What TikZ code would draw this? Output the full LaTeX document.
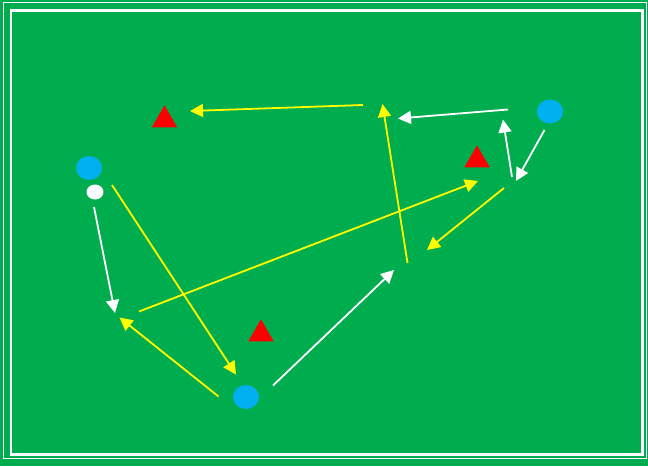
\documentclass[tikz,border=0pt]{standalone}
\usetikzlibrary{arrows.meta,shapes.geometric}
\definecolor{pitch}{RGB}{0,173,78}
\definecolor{player}{RGB}{0,176,240}
\definecolor{cone}{RGB}{255,0,0}
\definecolor{pass}{RGB}{255,255,0}
\begin{document}
\begin{tikzpicture}[x=1pt,y=-1pt,
  yarrow/.style={draw=pass,line width=1.8pt,-{Triangle[length=13pt,width=13pt]}},
  warrow/.style={draw=white,line width=1.8pt,-{Triangle[length=13pt,width=13pt]}},
  playerdot/.style={ellipse,fill=player,minimum width=26pt,minimum height=24pt,inner sep=0pt},
  balldot/.style={ellipse,fill=white,minimum width=17pt,minimum height=15pt,inner sep=0pt},
  conemark/.style={isosceles triangle,isosceles triangle apex angle=60,shape border rotate=90,fill=cone,minimum height=22pt,inner sep=0pt}]
\useasboundingbox (0,0) rectangle (648,466);
\fill[pitch] (0,0) rectangle (648,466);
\draw[white,line width=0.8pt] (3,2.5) rectangle (646,458);
\draw[white,line width=2.5pt] (11,10.5) rectangle (642.5,454.5);
% players
\node[playerdot] (p1) at (89,168) {};
\node[playerdot] (p2) at (550,111.5) {};
\node[playerdot] (p3) at (246,397) {};
\node[balldot] (ball) at (95,192) {};
% cones
\node[conemark] (c1) at (164.5,120) {};
\node[conemark] (c2) at (477,160) {};
\node[conemark] (c3) at (261,334) {};
% arrow endpoints
\coordinate (y1s) at (363,105);   \coordinate (y1e) at (190,111);
\coordinate (y2s) at (407.5,263); \coordinate (y2e) at (382.5,104);
\coordinate (y3s) at (139,311.5); \coordinate (y3e) at (478,181);
\coordinate (y4s) at (504,188);   \coordinate (y4e) at (427,250);
\coordinate (y5s) at (112,185);   \coordinate (y5e) at (236,374.5);
\coordinate (y6s) at (218.5,396.5); \coordinate (y6e) at (119.5,317.5);
\coordinate (w1s) at (94,207);    \coordinate (w1e) at (115,313);
\coordinate (w2s) at (273,385.5); \coordinate (w2e) at (394,270);
\coordinate (w3s) at (508,109.5); \coordinate (w3e) at (398,118.5);
\coordinate (w4s) at (544.5,130); \coordinate (w4e) at (516,181);
\coordinate (w5s) at (512,177);   \coordinate (w5e) at (503,119.5);
% yellow passes
\draw[yarrow] (y1s) -- (y1e);
\draw[yarrow] (y2s) -- (y2e);
\draw[yarrow] (y3s) -- (y3e);
\draw[yarrow] (y4s) -- (y4e);
\draw[yarrow] (y5s) -- (y5e);
\draw[yarrow] (y6s) -- (y6e);
% white runs
\draw[warrow] (w1s) -- (w1e);
\draw[warrow] (w2s) -- (w2e);
\draw[warrow] (w3s) -- (w3e);
\draw[warrow] (w4s) -- (w4e);
\draw[warrow] (w5s) -- (w5e);
\end{tikzpicture}
\end{document}
